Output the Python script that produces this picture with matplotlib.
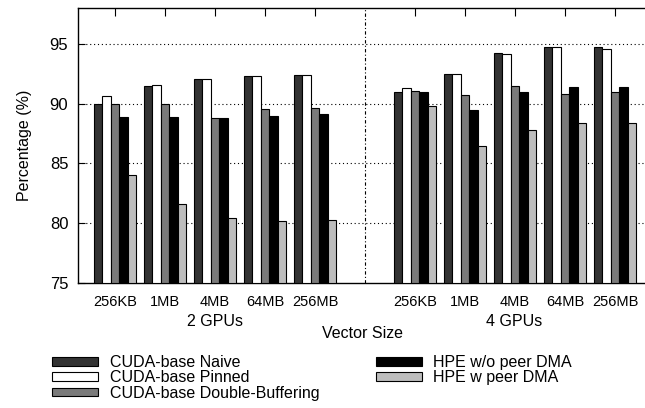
import numpy as np
import matplotlib.pyplot as plt
from matplotlib.patches import Patch

plt.rcParams['font.family'] = ['Liberation Sans', 'DejaVu Sans']
plt.rcParams['font.size'] = 11.5

sizes = ['256KB', '1MB', '4MB', '64MB', '256MB']
groups = ['2 GPUs', '4 GPUs']
series = ['CUDA-base Naive', 'CUDA-base Pinned', 'CUDA-base Double-Buffering',
          'HPE w/o peer DMA', 'HPE w peer DMA']
colors = ['#333333', '#ffffff', '#7a7a7a', '#000000', '#bdbdbd']

# 2 GPUs
naive_2 = [89.95, 91.5, 92.1, 92.35, 92.4]
pinned_2 = [90.6, 91.55, 92.1, 92.35, 92.4]
dbuf_2 = [89.97, 89.95, 88.8, 89.55, 89.65]
hpe_nodma_2 = [88.86, 88.86, 88.78, 89.0, 89.17]
hpe_dma_2 = [84.03, 81.64, 80.44, 80.22, 80.25]
# 4 GPUs
naive_4 = [90.97, 92.45, 94.25, 94.7, 94.75]
pinned_4 = [91.35, 92.45, 94.15, 94.7, 94.58]
dbuf_4 = [91.08, 90.7, 91.45, 90.8, 90.97]
hpe_nodma_4 = [90.97, 89.44, 90.97, 91.42, 91.38]
hpe_dma_4 = [89.83, 86.47, 87.8, 88.35, 88.42]

data = [naive_2 + naive_4, pinned_2 + pinned_4, dbuf_2 + dbuf_4,
        hpe_nodma_2 + hpe_nodma_4, hpe_dma_2 + hpe_dma_4]

x = np.concatenate([np.arange(5), np.arange(5) + 6])
w = 0.168

fig = plt.figure(figsize=(6.45, 4.08), dpi=100)
ax = fig.add_axes([78/645, 1 - 283/408, 1 - 78/645, 275/408])

for i, vals in enumerate(data):
    ax.bar(x + (i - 2) * w, np.array(vals) - 75, w, bottom=75, color=colors[i],
           edgecolor='black', linewidth=0.8, label=series[i], zorder=3)

ax.set_ylim(75, 98)
ax.set_xlim(-0.74, 10.6)
ax.set_yticks([75, 80, 85, 90, 95])
for yv in [80, 85, 90, 95]:
    ax.axhline(yv, color='black', linestyle=(0, (1, 2.5)), linewidth=0.8, zorder=1)
ax.axvline(5, color='black', linestyle=(0, (3, 2, 1, 2)), linewidth=0.8, zorder=1)

ax.set_xticks(x)
ax.set_xticklabels(sizes + sizes, fontsize=10.5)
ax.tick_params(axis='x', bottom=False, top=True, direction='in', length=6, pad=9)
ax.tick_params(axis='y', direction='in', length=5, pad=7, labelsize=12)
ax.spines['right'].set_visible(False)
for s in ['left', 'top', 'bottom']:
    ax.spines[s].set_linewidth(1.0)

ax.set_ylabel('Percentage (%)', labelpad=13)
fig.text(215/645, 1 - 321/408, groups[0], ha='center', va='center')
fig.text(514/645, 1 - 321/408, groups[1], ha='center', va='center')
fig.text(362/645, 1 - 334/408, 'Vector Size', ha='center', va='center')

handles = [Patch(facecolor=colors[i], edgecolor='black', linewidth=0.8) for i in range(5)]
fig.legend(handles, series, loc='upper left', bbox_to_anchor=(52/645, 1 - 355/408),
           ncol=2, frameon=False, borderpad=0, borderaxespad=0,
           handlelength=2.9, handleheight=0.45, handletextpad=0.7,
           labelspacing=0.02, columnspacing=3.55)

fig.savefig('out.png', dpi=100)
